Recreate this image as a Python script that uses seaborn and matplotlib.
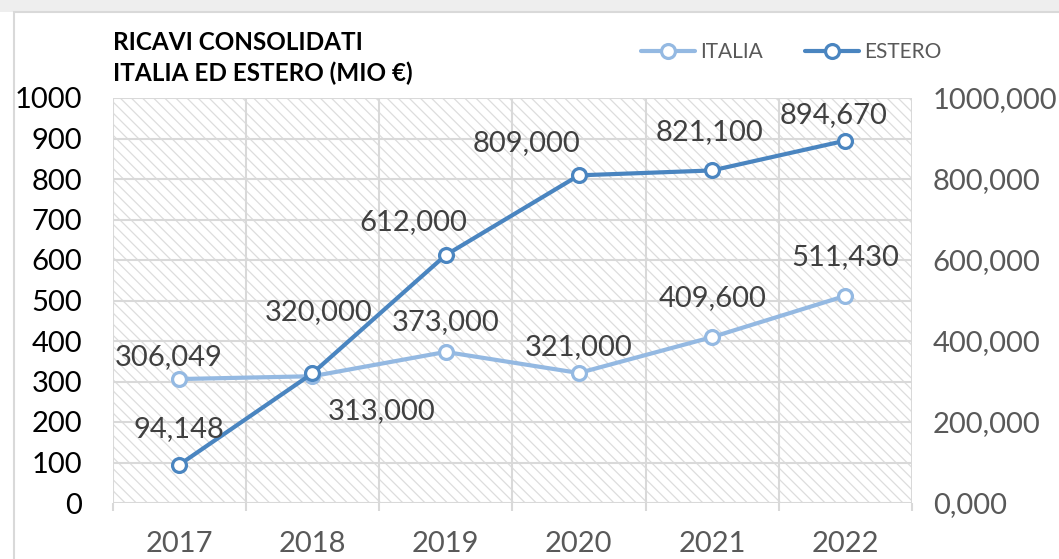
import matplotlib.pyplot as plt
import seaborn as sns
import pandas as pd
from matplotlib.patches import Rectangle

# dati (milioni di euro)
anni = [2017, 2018, 2019, 2020, 2021, 2022]
italia = [306.049, 313.0, 373.0, 321.0, 409.6, 511.43]
estero = [94.148, 320.0, 612.0, 809.0, 821.1, 894.67]
serie = ['ITALIA', 'ESTERO']
tick_sx = list(range(0, 1001, 100))
tick_dx = list(range(0, 1001, 200))

colori = {'ITALIA': '#94b9e2', 'ESTERO': '#4a85c0'}
# spostamento delle etichette in pixel (dx, dy)
offset_etichette = {
    'ITALIA': [(-10, 22), (69, -35), (0, 30), (0, 26), (0, 39), (0, 39)],
    'ESTERO': [(0, 36), (6, 61), (-32, 33), (-52, 32), (-3, 38), (-12, 26)],
}

sns.set_theme(style="white")
plt.rcParams['font.family'] = ['Lato', 'DejaVu Sans']
plt.rcParams['hatch.linewidth'] = 0.9

W, H = 1059, 559
fig = plt.figure(figsize=(W / 100, H / 100), dpi=100)
fig.patch.set_facecolor('white')

# bordo del riquadro e banda grigia in alto
fig.add_artist(Rectangle((0, 1 - 12 / H), 1, 12 / H, transform=fig.transFigure,
                         facecolor='#eeeeee', edgecolor='none', zorder=0))
fig.add_artist(Rectangle((14 / W, -0.05), 1.1, (H - 12) / H + 0.05, transform=fig.transFigure,
                         facecolor='none', edgecolor='#d9d9d9', linewidth=1.5, zorder=1))

ax = fig.add_axes([112.5 / W, 1 - 503 / H, (912 - 112.5) / W, (503 - 98) / H])
ax.set_facecolor('white')
ax.add_patch(Rectangle((0, 0), 1, 1, transform=ax.transAxes, facecolor='none',
                       edgecolor='#dddddd', hatch='\\\\\\', linewidth=0, zorder=0))

df = pd.DataFrame({
    'Anno': anni * 2,
    'Ricavi': italia + estero,
    'Serie': ['ITALIA'] * len(anni) + ['ESTERO'] * len(anni),
})

sns.lineplot(data=df, x='Anno', y='Ricavi', hue='Serie', hue_order=serie, palette=colori,
             marker='o', markersize=10, linewidth=3, markerfacecolor='white',
             markeredgewidth=2.3, legend=False, ax=ax, zorder=3)
for line in ax.get_lines():
    line.set_markeredgecolor(line.get_color())

# etichette dei valori
for nome, valori in zip(serie, [italia, estero]):
    for anno, v, (dx, dy) in zip(anni, valori, offset_etichette[nome]):
        ax.annotate(f'{v:.3f}'.replace('.', ','), (anno, v), xytext=(dx, dy),
                    textcoords='offset pixels', ha='center', va='center',
                    fontsize=21, color='#404040', zorder=4)

ax.set_xlim(anni[0] - 0.5, anni[-1] + 0.5)
ax.set_ylim(0, 1000)
ax.set_xticks(anni)
ax.set_xticks([a - 0.5 for a in anni] + [anni[-1] + 0.5], minor=True)
ax.set_yticks(tick_sx)
ax.set_axisbelow(True)
ax.grid(axis='y', which='major', color='#d9d9d9', linewidth=1.5)
ax.grid(axis='x', which='minor', color='#d9d9d9', linewidth=1.5)
ax.grid(axis='x', which='major', visible=False)
ax.tick_params(axis='x', which='major', length=0, pad=20, labelsize=21, labelcolor='#595959')
ax.tick_params(axis='x', which='minor', length=6, width=1.5, color='#d9d9d9', direction='out', bottom=True)
ax.tick_params(axis='y', length=0, pad=22, labelsize=21, labelcolor='black')
for s in ax.spines.values():
    s.set_visible(False)
ax.set_xlabel('')
ax.set_ylabel('')

ax2 = ax.twinx()
ax2.set_ylim(0, 1000)
ax2.set_yticks(tick_dx)
ax2.set_yticklabels([f'{t:.3f}'.replace('.', ',') for t in tick_dx])
ax2.tick_params(axis='y', length=0, pad=15, labelsize=21, labelcolor='#595959')
ax2.grid(False)
for s in ax2.spines.values():
    s.set_visible(False)

fig.text(113 / W, 1 - 31 / H, 'RICAVI CONSOLIDATI\nITALIA ED ESTERO (MIO €)',
         fontsize=17.5, fontweight='bold', color='black', ha='left', va='top', linespacing=1.4)

fig.legend(handles=ax.get_lines()[:2], labels=serie, loc='center',
           bbox_to_anchor=(791 / W, 1 - 52 / H), ncol=2, frameon=False, fontsize=15,
           handlelength=2.6, handletextpad=0.25, columnspacing=2.0, labelcolor='#595959')

fig.savefig('out.png', dpi=100)
